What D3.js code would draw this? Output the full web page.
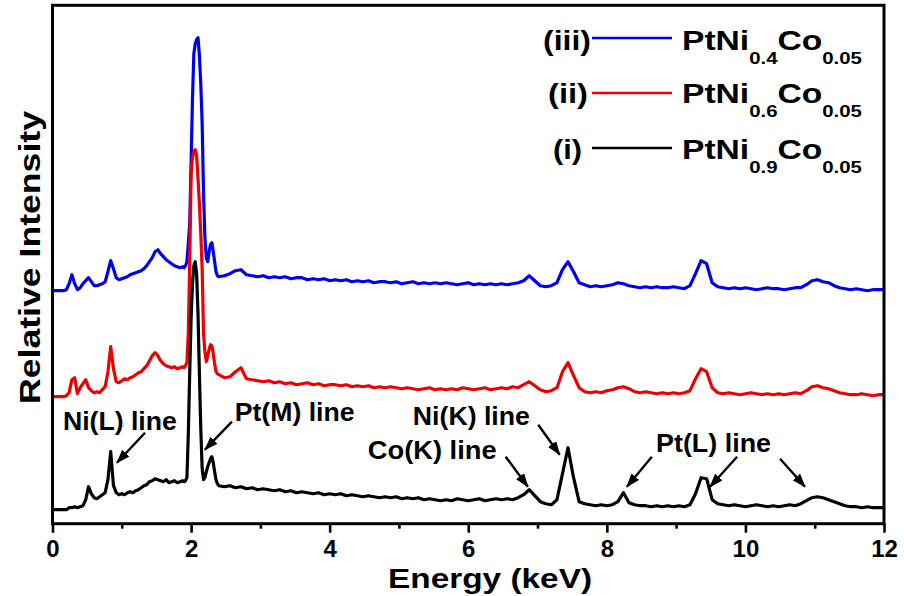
<!DOCTYPE html>
<html><head><meta charset="utf-8">
<script src="https://cdn.jsdelivr.net/npm/d3@7"></script>
<style>
body{margin:0;background:#fff}
svg{display:block}
text{font-family:"Liberation Sans",Arial,sans-serif;font-weight:bold;fill:#000}
</style></head><body>
<script>
// ---- energy channels (keV) ----
const energy = [].concat(
  d3.range(0, 48).map(i => +(i * 0.04).toFixed(2)),
  d3.range(0, 26).map(i => +(1.90 + i * 0.02).toFixed(2)),
  d3.range(0, 120).map(i => +(2.48 + i * 0.08).toFixed(2))
);

// (i) PtNi0.9Co0.05  (black)
const intensityI = [
  14,14,14,14,14,14,16,16,
  17,16,17,18,24,37,30,26,
  25,27,29,31,44,72,38,31,
  29,30,29,31,32,31,33,34,
  36,38,39,42,43,45,44,43,
  42,44,41,42,43,41,42,43,
  42,43,46,90,150,205,240,258,
  262,250,210,150,95,55,44,46,
  52,57,61,65,67,61,52,44,
  40,38,
  37,38,36,37,35,36,34,35,34,33,
  34,32,33,31,32,31,30,31,29,30,
  29,30,28,29,28,27,28,27,26,27,
  26,27,25,26,25,26,24,25,24,23,
  24,23,25,24,23,24,25,23,24,25,
  24,25,24,26,29,34,28,22,20,19,
  24,50,76,46,22,20,19,18,19,18,
  19,22,31,21,19,18,18,17,18,17,
  18,17,18,17,19,30,46,45,24,20,
  19,18,19,18,17,18,19,18,17,18,
  17,18,19,18,20,23,26,27,26,24,
  22,20,18,17,17,16,17,16,16,16
];

// (ii) PtNi0.6Co0.05  (red)
const intensityII = [
  127,127,127,127,127,128,131,144,
  146,130,136,140,144,136,133,131,
  132,131,134,137,152,177,155,142,
  141,143,145,144,146,147,149,151,
  152,155,158,163,168,171,168,163,
  160,158,157,156,157,155,156,157,
  156,158,162,190,260,350,366,372,
  374,368,345,320,290,255,190,172,
  162,168,174,179,178,170,160,152,
  150,149,
  146,147,152,156,145,144,143,142,143,141,
  142,140,141,139,140,141,139,140,138,139,
  139,138,139,137,138,137,138,136,137,136,
  137,136,135,136,135,134,135,136,134,135,
  134,135,134,136,135,134,135,136,134,135,
  136,135,137,136,139,142,138,134,132,133,
  136,152,161,148,136,132,131,132,131,133,
  134,136,137,135,132,131,132,131,130,131,
  130,131,130,131,133,145,155,152,136,131,
  130,131,130,129,130,131,130,129,130,129,
  130,129,130,131,130,133,137,138,136,135,
  133,131,130,129,129,130,129,128,129,129
];

// (iii) PtNi0.4Co0.05  (blue)
const intensityIII = [
  233,233,233,233,233,234,240,249,
  240,234,236,240,243,246,242,238,
  238,239,240,242,252,263,255,246,
  244,245,246,247,249,250,251,252,
  253,255,258,262,266,272,274,270,
  267,264,262,260,258,257,256,257,
  256,258,262,280,300,360,425,470,
  480,484,486,468,440,400,330,285,
  266,262,272,279,281,272,262,252,
  248,247,
  248,250,253,254,249,248,247,248,246,247,
  246,247,245,246,246,244,245,244,245,243,
  244,243,244,242,243,242,243,241,242,242,
  241,242,240,241,242,240,241,240,241,240,
  241,240,239,240,241,239,240,239,240,239,
  240,239,240,241,243,248,243,238,237,238,
  241,254,262,252,241,239,237,238,237,238,
  239,241,240,238,237,236,237,236,237,236,
  236,237,236,235,238,250,263,260,241,237,
  236,235,236,235,236,235,234,235,236,235,
  235,234,235,236,236,239,243,244,242,241,
  238,236,235,234,235,234,233,234,234,234
];

const seriesNames = ["(iii)", "(ii)", "(i)"];
const seriesColors = ["#0000f0", "#ee0000", "#000000"];
const niSub = ["0.4", "0.6", "0.9"];
const coSub = ["0.05", "0.05", "0.05"];

const majorTicks = [0, 2, 4, 6, 8, 10, 12];
const minorTicks = [1, 3, 5, 7, 9, 11];

// annotations: label text, label start (keV), baseline (intensity), label width (keV)
const annLabels = ["Ni(L) line", "Pt(M) line", "Ni(K) line", "Co(K) line", "Pt(L) line"];
const annX = [0.15, 2.63, 5.20, 4.55, 8.71];
const annY = [94, 103, 99, 65, 72];
const annW = [1.645, 1.73, 1.69, 1.86, 1.66];
// arrows: [fromKeV, fromI, toKeV, toI]
const arrowsFrom = [[1.335, 91], [2.59, 102], [7.01, 99], [6.54, 67], [8.65, 67], [9.88, 67], [10.50, 65]];
const arrowsTo   = [[0.93, 61], [2.20, 74], [7.32, 69], [6.86, 37], [8.29, 37], [9.49, 37], [10.86, 37]];

// ---- drawing ----
const W = 904, H = 596;
const L = 52.5, R = 884, T = 5.3, B = 523.7;
const svg = d3.select("body").append("svg").attr("width", W).attr("height", H);
const x = d3.scaleLinear().domain([0, 12]).range([L, R]);
const y = d3.scaleLinear().domain([0, 518.4]).range([B, T]);

svg.append("defs").append("marker")
  .attr("id", "ah").attr("viewBox", "0 0 14 10").attr("refX", 13).attr("refY", 5)
  .attr("markerWidth", 14).attr("markerHeight", 10).attr("markerUnits", "userSpaceOnUse")
  .attr("orient", "auto")
  .append("path").attr("d", "M0,0L14,5L0,10Z").attr("fill", "#000");

const line = d3.line().x(d => x(d[0])).y(d => y(d[1]));
const seriesData = [intensityIII, intensityII, intensityI];
seriesData.forEach((vals, k) => {
  const n = Math.min(vals.length, energy.length);
  const pts = d3.range(n).map(i => [energy[i], vals[i]]);
  svg.append("path").datum(pts).attr("d", line)
    .attr("fill", "none").attr("stroke", seriesColors[k])
    .attr("stroke-width", 3.2).attr("stroke-linejoin", "round");
});

// frame
svg.append("rect").attr("x", L).attr("y", T).attr("width", R - L).attr("height", B - T)
  .attr("fill", "none").attr("stroke", "#000").attr("stroke-width", 3);

// axes
const gMaj = svg.append("g").attr("transform", `translate(0,${B})`)
  .call(d3.axisBottom(x).tickValues(majorTicks).tickSize(9).tickFormat(d3.format("d")));
const gMin = svg.append("g").attr("transform", `translate(0,${B})`)
  .call(d3.axisBottom(x).tickValues(minorTicks).tickSize(5).tickFormat(""));
[gMaj, gMin].forEach(g => {
  g.select(".domain").remove();
  g.selectAll("line").attr("stroke", "#000").attr("stroke-width", 2.6);
});
gMaj.selectAll("text").attr("y", 33.5).attr("dy", null)
  .attr("font-size", 24).attr("font-family", null).attr("fill", "#000");

svg.append("text").attr("x", 490).attr("y", 588).attr("text-anchor", "middle")
  .attr("font-size", 27).attr("textLength", 204).attr("lengthAdjust", "spacingAndGlyphs")
  .text("Energy (keV)");
svg.append("text").attr("transform", "translate(40,257.5) rotate(-90)").attr("text-anchor", "middle")
  .attr("font-size", 30).attr("textLength", 293).attr("lengthAdjust", "spacingAndGlyphs")
  .text("Relative Intensity");

// annotations
annLabels.forEach((t, i) => {
  svg.append("text").attr("x", x(annX[i])).attr("y", y(annY[i]))
    .attr("font-size", 25).attr("textLength", x(annX[i] + annW[i]) - x(annX[i]))
    .attr("lengthAdjust", "spacingAndGlyphs").text(t);
});
arrowsFrom.forEach((f, i) => {
  const t = arrowsTo[i];
  svg.append("line").attr("x1", x(f[0])).attr("y1", y(f[1])).attr("x2", x(t[0])).attr("y2", y(t[1]))
    .attr("stroke", "#000").attr("stroke-width", 2.4).attr("marker-end", "url(#ah)");
});

// legend
const legBase = [50, 103, 159];
const legLineY = [38, 93, 148];
const tagEnd = [591, 588, 582];
const tagLen = [48, 40, 29];
seriesNames.forEach((nm, i) => {
  svg.append("text").attr("x", tagEnd[i]).attr("y", legBase[i]).attr("text-anchor", "end")
    .attr("font-size", 27).attr("textLength", tagLen[i]).attr("lengthAdjust", "spacingAndGlyphs").text(nm);
  svg.append("line").attr("x1", 592).attr("x2", 672).attr("y1", legLineY[i]).attr("y2", legLineY[i])
    .attr("stroke", seriesColors[i]).attr("stroke-width", 2.6);
  const t = svg.append("text").attr("transform", `translate(682,${legBase[i]}) scale(1.2,1)`).attr("font-size", 28);
  t.append("tspan").text("PtNi");
  t.append("tspan").attr("font-size", 17).attr("dy", 14).text(niSub[i]);
  t.append("tspan").attr("dy", -14).text("Co");
  t.append("tspan").attr("font-size", 17).attr("dy", 14).text(coSub[i]);
});
</script>
</body></html>
